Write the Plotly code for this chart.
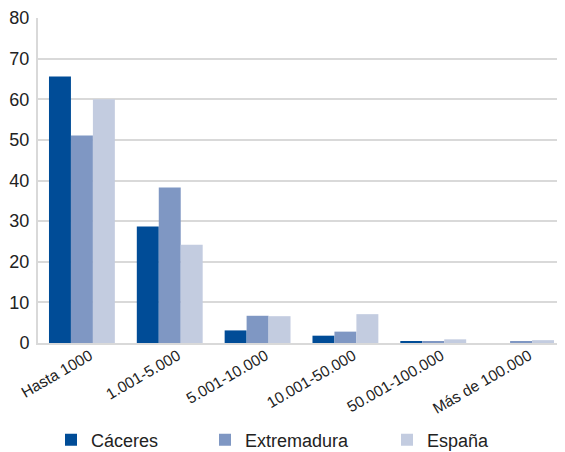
import plotly.graph_objects as go

categories = ["Hasta 1000", "1.001-5.000", "5.001-10.000", "10.001-50.000", "50.001-100.000", "Más de 100.000"]
caceres = [65.6, 28.7, 3.1, 1.8, 0.5, 0.0]
extremadura = [51.1, 38.3, 6.7, 2.8, 0.5, 0.3]
espana = [60.0, 24.2, 6.6, 7.1, 0.9, 0.7]

series = [("Cáceres", caceres, "#004C97"), ("Extremadura", extremadura, "#7F97C3"), ("España", espana, "#C3CCE0")]
legend_ids = ["legend", "legend2", "legend3"]
legend_px = [63, 217, 399]  # square centres in figure pixels

W, H = 557, 444

fig = go.Figure()
for (name, vals, col), lid in zip(series, legend_ids):
    fig.add_trace(go.Bar(x=categories, y=vals, name=name, legend=lid,
                         marker=dict(color=col, line=dict(width=0))))

leg_common = dict(orientation="h", xref="container", yref="container", xanchor="left", yanchor="middle",
                  y=12 / H, font=dict(size=18), itemwidth=30, bgcolor="rgba(0,0,0,0)")
legends = {}
for lid, px in zip(legend_ids, legend_px):
    legends[lid] = dict(leg_common, x=(px - 20) / W)

fig.update_layout(
    width=W, height=H,
    margin=dict(l=30, r=0, t=10, b=109),
    paper_bgcolor="white", plot_bgcolor="white",
    barmode="group", bargap=0.25, bargroupgap=0,
    font=dict(family="Liberation Sans, Arial, sans-serif", color="#222222"),
    showlegend=True,
    xaxis=dict(tickangle=-30, tickfont=dict(size=15.5), showline=True, linecolor="#D9D9D9", linewidth=2,
               ticks="", showgrid=False, automargin=False, ticklabelshift=8, ticklabelstandoff=-4),
    yaxis=dict(range=[0, 80], dtick=10, tickfont=dict(size=18), showgrid=True, gridcolor="#D9D9D9",
               gridwidth=1.5, showline=True, linecolor="#D9D9D9", linewidth=2, zeroline=False, ticks="",
               automargin=False, ticklabelstandoff=3),
    **legends,
)

fig.write_html("out.html")
